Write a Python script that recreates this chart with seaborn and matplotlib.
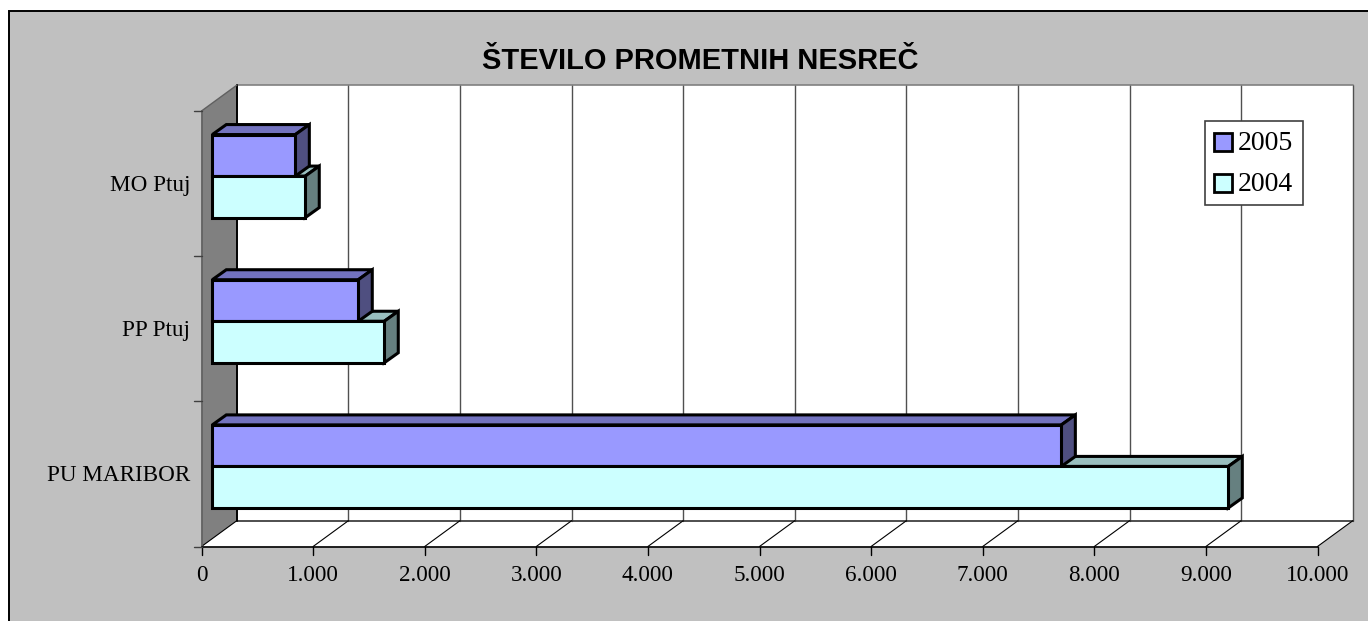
import matplotlib
matplotlib.use("Agg")
import matplotlib.pyplot as plt
from matplotlib.patches import Polygon, Rectangle
from matplotlib.transforms import Affine2D, IdentityTransform
import pandas as pd
import seaborn as sns

categories = ["MO Ptuj", "PP Ptuj", "PU MARIBOR"]
years = ["2005", "2004"]
values_2005 = [744, 1308, 7608]
values_2004 = [833, 1541, 9104]
x_ticks = [0, 1000, 2000, 3000, 4000, 5000, 6000, 7000, 8000, 9000, 10000]
x_labels = ["0", "1.000", "2.000", "3.000", "4.000", "5.000", "6.000", "7.000", "8.000", "9.000", "10.000"]
title = "ŠTEVILO PROMETNIH NESREČ"

W, H = 1368, 621
BG = "#C0C0C0"
FACE = {"2005": "#9999FF", "2004": "#CCFFFF"}
TOP = {"2005": "#7373BF", "2004": "#99BFBF"}
SIDE = {"2005": "#4F4F80", "2004": "#668080"}

sns.set_theme(style="white")
plt.rcParams["font.family"] = ["Liberation Serif", "DejaVu Serif"]

fig = plt.figure(figsize=(W / 100, H / 100), dpi=100, facecolor="white")

# full-figure pixel canvas for the frame, walls and text
bg = fig.add_axes([0, 0, 1, 1], zorder=0)
bg.set_xlim(0, W)
bg.set_ylim(H, 0)
bg.axis("off")
bg.add_patch(Rectangle((8.5, 11), W + 10, H + 10, fc=BG, ec="black", lw=1.4))
bg.text(700, 61, title, family=["Liberation Sans", "DejaVu Sans"], weight="bold",
        fontsize=20.9, ha="center", va="center", color="black")

# front plane of the 3-D box
X0, X1, Y0, Y1 = 201.5, 1317.5, 546.5, 111.0
DEPTH_X, DEPTH_Y = 35.3, 25.8
BX0, BX1, BY0, BY1 = X0 + DEPTH_X, X1 + DEPTH_X, Y0 - DEPTH_Y, Y1 - DEPTH_Y
sx = (X1 - X0) / 10000
sy = (Y0 - Y1) / 3

# walls and floor
bg.add_patch(Polygon([(BX0, BY0), (BX1, BY0), (BX1, BY1), (BX0, BY1)], closed=True, fc="white", ec="none", zorder=1))
bg.add_patch(Polygon([(X0, Y0), (X1, Y0), (BX1, BY0), (BX0, BY0)], closed=True, fc="white", ec="none", zorder=1))
bg.add_patch(Polygon([(X0, Y0), (BX0, BY0), (BX0, BY1), (X0, Y1)], closed=True, fc="#808080", ec="none", zorder=1))
bg.plot([BX0, BX0], [BY0, BY1], color="black", lw=1.4, zorder=3)
bg.plot([X0, BX0], [Y1, BY1], color="#606060", lw=1, zorder=3)
bg.plot([X0, X0], [Y0, Y1], color="#606060", lw=1.2, zorder=3)
bg.plot([BX0, BX1], [BY1, BY1], color="#808080", lw=1.2, zorder=2.5)
bg.plot([BX0, BX1], [BY0, BY0], color="#303030", lw=1.2, zorder=2.5)

for i, t in enumerate(x_ticks):
    px = X0 + sx * t
    if i > 0:
        bg.plot([px + DEPTH_X] * 2, [BY1, BY0], color="#505050", lw=1.0, zorder=2)
    bg.plot([px, px + DEPTH_X], [Y0, BY0], color="black", lw=0.8, zorder=2.5)
    bg.plot([px, px], [Y0, Y0 + 8], color="black", lw=1, zorder=3)
    bg.text(px, 575.5, x_labels[i], fontsize=16.7, ha="center", va="center", color="black")
bg.plot([X0, X1], [Y0, Y0], color="black", lw=1.2, zorder=3)
for k in range(4):
    py = Y1 + sy * k
    bg.plot([X0 - 8, X0], [py, py], color="#404040", lw=1, zorder=3)
for k, c in enumerate(categories):
    bg.text(190.5, Y1 + sy * (k + 0.5) + 1.5, c, fontsize=16.7, ha="right", va="center", color="black")

# data axes
ax = fig.add_axes([X0 / W, 1 - Y0 / H, (X1 - X0) / W, (Y0 - Y1) / H], zorder=1)
ax.patch.set_alpha(0)

df = pd.DataFrame({
    "category": categories * 2,
    "value": values_2005 + values_2004,
    "year": [years[0]] * 3 + [years[1]] * 3,
})
sns.barplot(data=df, y="category", x="value", hue="year", order=categories,
            hue_order=years, palette=FACE, width=0.572, gap=0, saturation=1,
            orient="h", ax=ax, legend=False, zorder=5)
ax.set_xlim(0, 10000)
ax.set_ylim(2.5, -0.5)
ax.set_xlabel("")
ax.set_ylabel("")
for s in ax.spines.values():
    s.set_visible(False)
ax.tick_params(left=False, bottom=False, labelleft=False, labelbottom=False)
ax.grid(False)


def shift(dx, dy):
    """Transform that moves data coordinates by screen pixels (dy up)."""
    return ax.transData + Affine2D().translate(dx, dy)


BAR_DX, BAR_DY = 10.8, 7.5
BAR_DEPTH_X, BAR_DEPTH_Y = 14.0, 10.0
front = shift(BAR_DX, BAR_DY)
rear = shift(BAR_DX + BAR_DEPTH_X, BAR_DY + BAR_DEPTH_Y)
EDGE = dict(edgecolor="black", linewidth=2.2, joinstyle="miter", clip_on=False)
ident = IdentityTransform()

bars = [b for b in ax.patches if isinstance(b, Rectangle)][:6]


def add_box_sides(b, yr, z):
    xv = b.get_width()
    yt, yb = sorted((b.get_y(), b.get_y() + b.get_height()))
    ftl, ftr, fbr = front.transform([(0, yt), (xv, yt), (xv, yb)])
    rtl, rtr, rbr = rear.transform([(0, yt), (xv, yt), (xv, yb)])
    ax.add_patch(Polygon([ftl, ftr, rtr, rtl], closed=True, transform=ident, facecolor=TOP[yr], zorder=z, **EDGE))
    ax.add_patch(Polygon([ftr, fbr, rbr, rtr], closed=True, transform=ident, facecolor=SIDE[yr], zorder=z, **EDGE))


# within a group: 2004 top/side, then the whole 2005 box, then the 2004 front face
for i in range(3):
    b05, b04 = bars[i], bars[i + 3]
    z = 5 + i * 5
    add_box_sides(b04, "2004", z)
    add_box_sides(b05, "2005", z + 1)
    for b, yr, zz in ((b05, "2005", z + 2), (b04, "2004", z + 3)):
        b.set_transform(front)
        b.set_facecolor(FACE[yr])
        b.set(zorder=zz, **EDGE)

# legend
leg = fig.add_axes([0, 0, 1, 1], zorder=3)
leg.set_xlim(0, W)
leg.set_ylim(H, 0)
leg.axis("off")
leg.add_patch(Rectangle((1204.5, 120.5), 98, 84, fc="white", ec="#404040", lw=1.2))
for yr, yc in zip(years, (142, 183)):
    leg.add_patch(Rectangle((1214, yc - 9), 17.5, 17.5, fc=FACE[yr], ec="black", lw=2))
    leg.text(1238, yc + 1.5, yr, fontsize=20, ha="left", va="center", color="black")

fig.savefig("out.png", dpi=100, facecolor="white")
